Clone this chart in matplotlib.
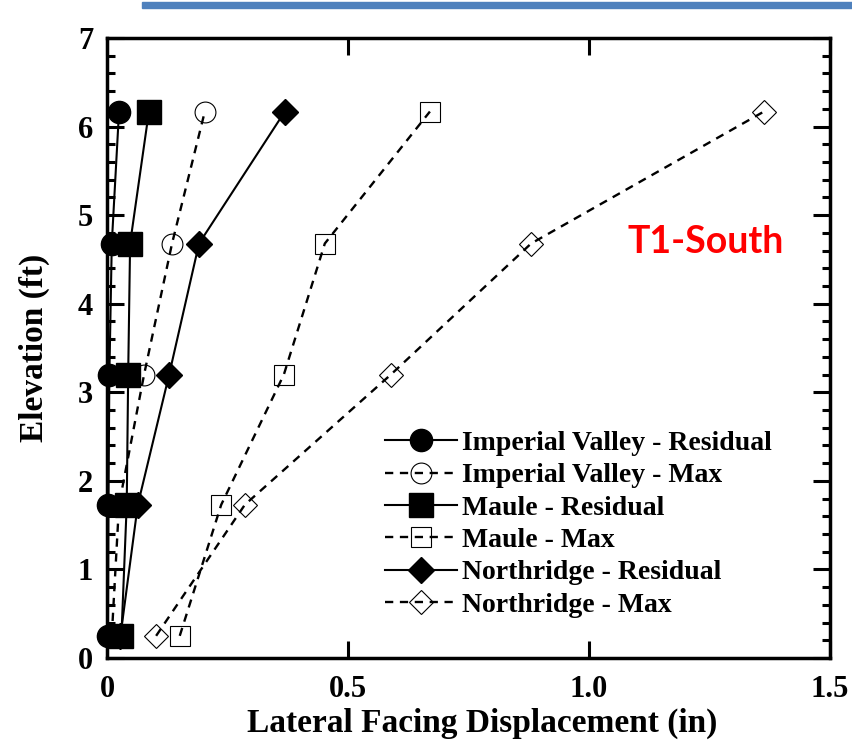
"""Lateral facing displacement profiles for T1-South wall."""

import matplotlib.pyplot as plt
from matplotlib.patches import Rectangle
from matplotlib.ticker import MultipleLocator

elevation = [0.25, 1.73, 3.2, 4.68, 6.17]

iv_residual = [0.002, 0.003, 0.005, 0.01, 0.025]
iv_max = [0.01, 0.025, 0.077, 0.135, 0.203]
maule_residual = [0.03, 0.041, 0.044, 0.048, 0.087]
maule_max = [0.151, 0.237, 0.367, 0.452, 0.67]
nr_residual = [0.028, 0.064, 0.129, 0.191, 0.369]
nr_max = [0.102, 0.286, 0.589, 0.88, 1.363]

series = [
    ("Imperial Valley - Residual", iv_residual, "o", True, 16),
    ("Imperial Valley - Max", iv_max, "o", False, 15),
    ("Maule - Residual", maule_residual, "s", True, 17),
    ("Maule - Max", maule_max, "s", False, 15),
    ("Northridge - Residual", nr_residual, "D", True, 13),
    ("Northridge - Max", nr_max, "D", False, 12),
]

plt.rcParams["font.family"] = ["Liberation Serif", "DejaVu Serif"]
plt.rcParams["font.weight"] = "bold"

fig = plt.figure(figsize=(8.53, 7.46), dpi=100)
ax = fig.add_axes([0.1254, 0.118, 0.8476, 0.831])

for label, values, marker, filled, size in series:
    if filled:
        ax.plot(values, elevation, color="black", linestyle="-", linewidth=1.5,
                marker=marker, markersize=size, markerfacecolor="black",
                markeredgecolor="black", label=label, clip_on=False)
    else:
        ax.plot(values, elevation, color="black", linestyle=(0, (3.5, 2.8)), linewidth=1.7,
                marker=marker, markersize=size, markerfacecolor="none",
                markeredgecolor="black", markeredgewidth=0.8, label=label, clip_on=False)

ax.set_xlim(0, 1.5)
ax.set_ylim(0, 7)
ax.yaxis.set_major_locator(MultipleLocator(1))
ax.yaxis.set_minor_locator(MultipleLocator(0.2))
ax.set_xticks([0, 0.5, 1.0, 1.5])
ax.set_xticklabels(["0", "0.5", "1.0", "1.5"])

ax.tick_params(axis="both", which="major", direction="in", length=12, width=2.2,
               top=True, right=True, labelsize=22, pad=10)
ax.tick_params(axis="x", which="major", pad=12)
ax.tick_params(axis="y", which="minor", direction="in", length=6, width=2.2,
               left=True, right=True)
for spine in ax.spines.values():
    spine.set_linewidth(2.5)

ax.set_xlabel("Lateral Facing Displacement (in)", fontsize=24, fontweight="bold")
ax.set_ylabel("Elevation (ft)", fontsize=24, fontweight="bold", labelpad=20)
ax.xaxis.set_label_coords(0.519, -0.106, transform=ax.transAxes)
ax.xaxis.label.set_va("center")

ax.text(1.243, 4.7, "T1-South", color="#ff0000", fontsize=27, fontweight="bold",
        family=["Lato", "DejaVu Sans"], ha="center", va="center")

ax.legend(loc="upper left", bbox_to_anchor=(0.384, 0.367), frameon=False,
          prop={"family": "Liberation Serif", "weight": "bold", "size": 20},
          handlelength=2.6, handletextpad=0.2, labelspacing=0.25, borderpad=0,
          borderaxespad=0)

fig.patches.append(Rectangle((142 / 853, 1 - 8 / 746), (853 - 142) / 853, 6 / 746,
                             transform=fig.transFigure, color="#4f81bd", zorder=5))

fig.savefig("out.png", dpi=100)
